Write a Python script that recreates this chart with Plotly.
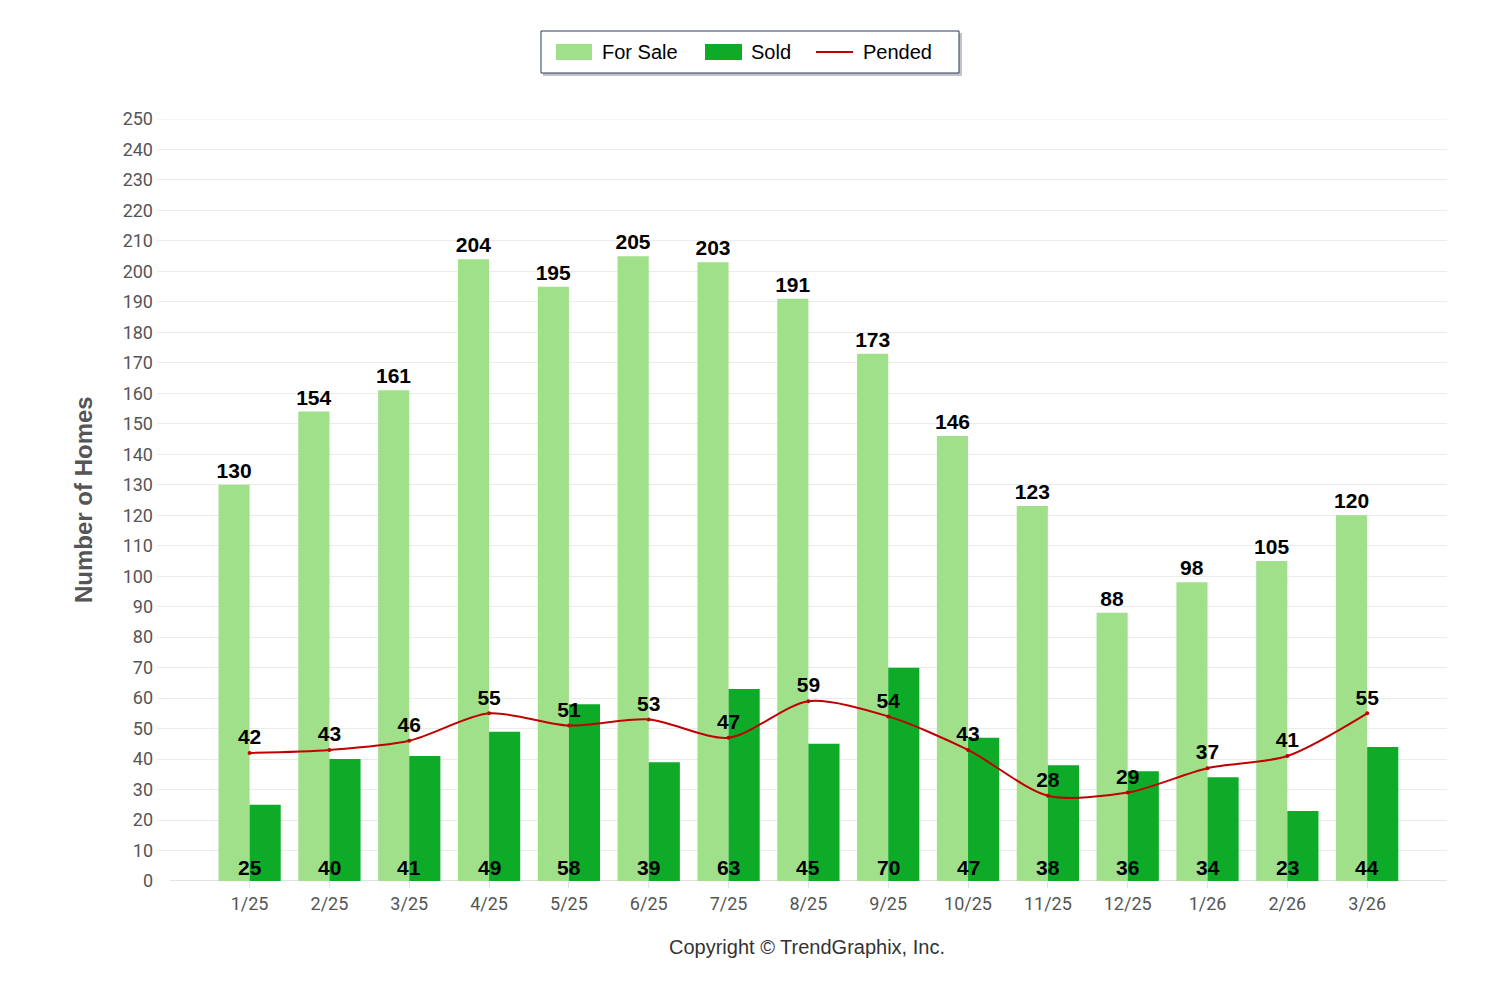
import plotly.graph_objects as go

months = ["1/25", "2/25", "3/25", "4/25", "5/25", "6/25", "7/25", "8/25",
          "9/25", "10/25", "11/25", "12/25", "1/26", "2/26", "3/26"]
for_sale = [130, 154, 161, 204, 195, 205, 203, 191, 173, 146, 123, 88, 98, 105, 120]
sold = [25, 40, 41, 49, 58, 39, 63, 45, 70, 47, 38, 36, 34, 23, 44]
pended = [42, 43, 46, 55, 51, 53, 47, 59, 54, 43, 28, 29, 37, 41, 55]
y_ticks = list(range(0, 251, 10))

C_SALE = "#A1E08B"
C_SOLD = "#0DAB27"
C_PEND = "#C00000"
C_GRID = "#EBEBEB"

LABEL_FONT = dict(family="Arial, Liberation Sans, sans-serif", size=21, color="#000000")
TICK_FONT = dict(family="Liberation Sans Narrow, Arial Narrow, Roboto, sans-serif", size=18, color="#555555")

# layout geometry (figure pixels; page has an 8px body margin)
W, H = 1484, 984
L, R, T, B = 149, 45, 111, 111
PW, PH = W - L - R, H - T - B


def px(sx):
    return (sx - 8 - L) / PW


def py(sy):
    return (H - B - (sy - 8)) / PH


fig = go.Figure()
fig.add_trace(go.Bar(
    name="For Sale", x=months, y=for_sale, marker=dict(color=C_SALE, line=dict(width=0)),
    text=[str(v) for v in for_sale], textposition="outside", constraintext="none",
    texttemplate="<b>%{text}</b>", textfont=LABEL_FONT, cliponaxis=False,
))
fig.add_trace(go.Bar(
    name="Sold", x=months, y=sold, marker=dict(color=C_SOLD, line=dict(width=0)),
    textposition="none",
))
fig.add_trace(go.Scatter(
    name="Pended", x=months, y=pended, mode="lines+markers+text",
    line=dict(color=C_PEND, width=2, shape="spline", smoothing=0.8),
    marker=dict(size=4, color=C_PEND),
    text=["<b>%d</b>" % v for v in pended], textposition="top center",
    textfont=LABEL_FONT, cliponaxis=False,
))

annotations = []
# sold value labels at the base of each category
for m, v in zip(months, sold):
    annotations.append(dict(text="<b>%d</b>" % v, x=m, y=0, xref="x", yref="y",
                            yanchor="middle", yshift=14, showarrow=False, font=LABEL_FONT))

annotations += [
    dict(text="<b>Number of Homes</b>", xref="paper", yref="paper",
         x=px(83), y=py(500), xanchor="center", yanchor="middle", textangle=-90, showarrow=False,
         font=dict(family="Liberation Sans, Arial, sans-serif", size=24, color="#555555")),
    dict(text="Copyright © TrendGraphix, Inc.", xref="paper", yref="paper",
         x=px(807), y=py(947), yanchor="middle", showarrow=False,
         font=dict(family="Arial, Liberation Sans, sans-serif", size=20, color="#333333")),
]

# custom legend
LEG_FONT = dict(family="Arial, Liberation Sans, sans-serif", size=20, color="#000000")
legend_items = [("For Sale", 600), ("Sold", 749), ("Pended", 861)]
for name, sx in legend_items:
    annotations.append(dict(text=name, xref="paper", yref="paper", x=px(sx), y=py(52),
                            xanchor="left", yanchor="middle", showarrow=False, font=LEG_FONT))

shapes = [
    dict(type="line", xref="x", yref="y", x0=-1, x1=15, y0=0, y1=0,
         line=dict(color="#E3E3E3", width=2), layer="below"),
    dict(type="line", xref="paper", yref="y", x0=0, x1=1, y0=y_ticks[-1], y1=y_ticks[-1],
         line=dict(color=C_GRID, width=1), layer="below"),
    # legend shadow + box
    dict(type="rect", xref="paper", yref="paper", x0=px(543), x1=px(962), y0=py(76), y1=py(33),
         line=dict(width=0), fillcolor="rgba(120,120,140,0.45)"),
    dict(type="rect", xref="paper", yref="paper", x0=px(541), x1=px(959), y0=py(73), y1=py(31),
         line=dict(color="#2C3A55", width=1), fillcolor="white"),
    dict(type="rect", xref="paper", yref="paper", x0=px(556), x1=px(592), y0=py(60), y1=py(44),
         line=dict(width=0), fillcolor=C_SALE),
    dict(type="rect", xref="paper", yref="paper", x0=px(705), x1=px(742), y0=py(60), y1=py(44),
         line=dict(width=0), fillcolor=C_SOLD),
    dict(type="line", xref="paper", yref="paper", x0=px(816), x1=px(853), y0=py(52), y1=py(52),
         line=dict(color=C_PEND, width=2)),
]

fig.update_layout(
    width=W, height=H,
    margin=dict(l=L, r=R, t=T, b=B),
    plot_bgcolor="white", paper_bgcolor="white",
    barmode="group", bargap=0.22, bargroupgap=0,
    font=dict(family="Arial, Liberation Sans, sans-serif"),
    showlegend=False,
    xaxis=dict(
        type="category", range=[-1.16, 15], showgrid=False,
        showline=False, ticks="outside", tickcolor="#E0E0E0", ticklen=6,
        tickfont=TICK_FONT, zeroline=False,
    ),
    yaxis=dict(
        range=[0, 250], tickvals=y_ticks, showgrid=True, gridcolor=C_GRID,
        gridwidth=1, zeroline=False, showline=False, tickfont=TICK_FONT,
        ticks="", ticklabelstandoff=3,
    ),
    shapes=shapes,
    annotations=annotations,
)

fig.write_html("out.html")
